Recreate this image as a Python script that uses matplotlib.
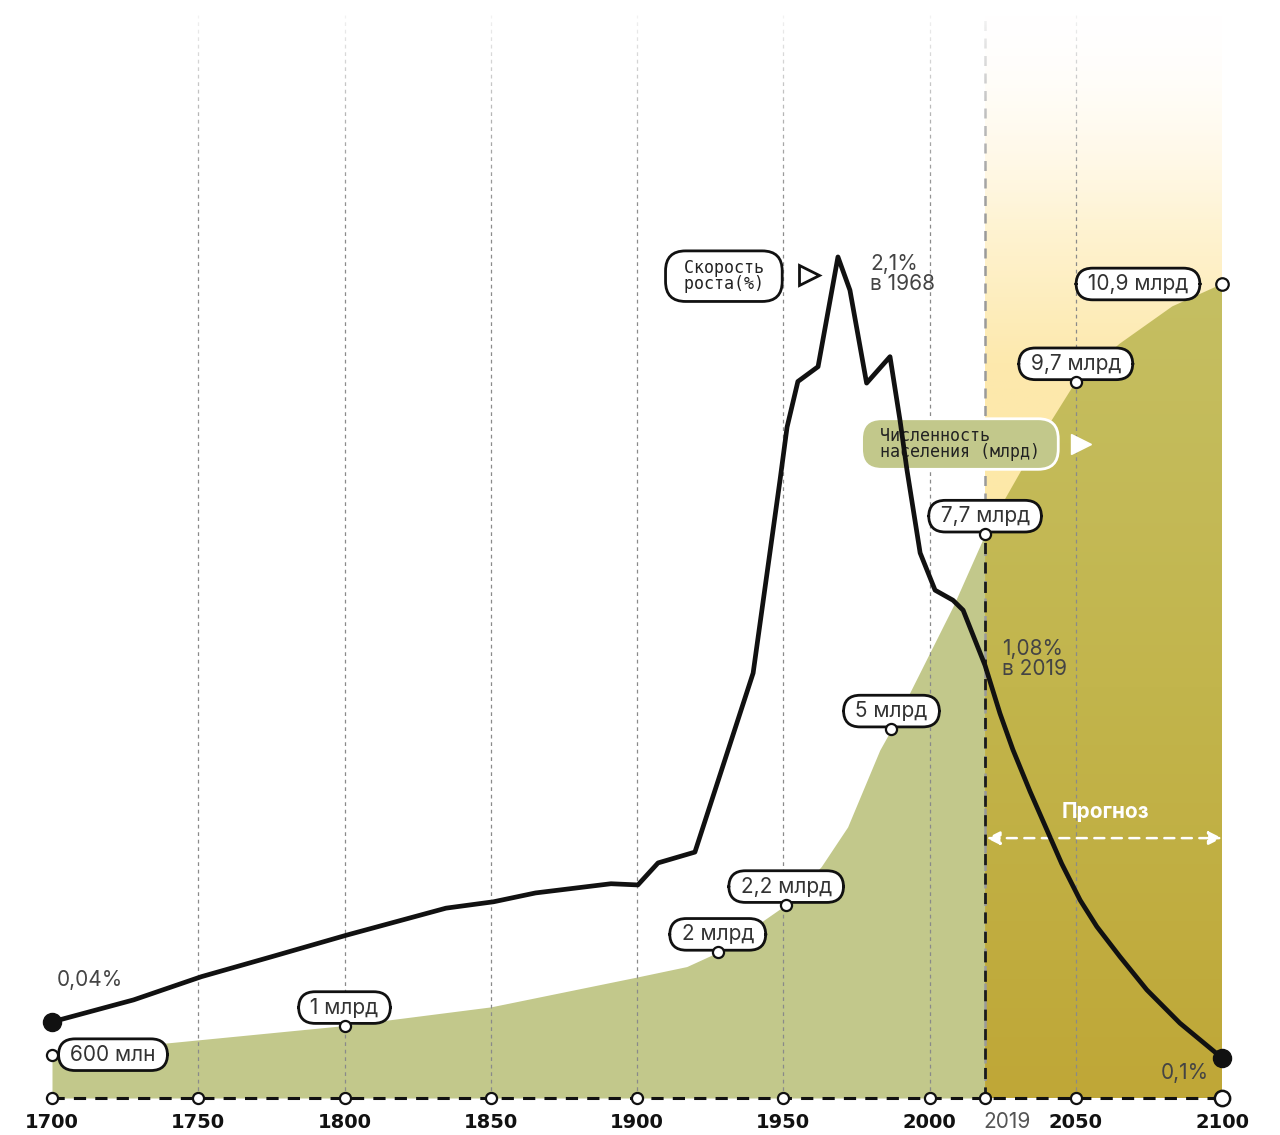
import numpy as np
import matplotlib
matplotlib.use("Agg")
import matplotlib.pyplot as plt
from matplotlib.colors import LinearSegmentedColormap

plt.rcParams['font.family'] = ['Inter', 'DejaVu Sans']

# population (billions)
pop_years = [1700, 1740, 1800, 1850, 1900, 1917, 1927.6, 1940, 1951, 1963, 1972, 1983, 1987, 2008, 2019]
pop_values = [0.58, 0.74, 0.97, 1.22, 1.62, 1.76, 1.95, 2.29, 2.59, 3.10, 3.63, 4.66, 4.94, 6.58, 7.55]
fc_years = [2019, 2035, 2050, 2065, 2083, 2100]
fc_values = [7.55, 8.65, 9.59, 10.10, 10.60, 10.90]

# growth rate (%)
rate_years = [1700, 1727.9, 1751.1, 1775.2, 1800.9, 1834.7, 1851, 1865.3, 1891.1, 1900.3, 1907.2,
              1919.8, 1939.7, 1948.9, 1951.3, 1955, 1961.9, 1968.7, 1972.8, 1978.5, 1986.5,
              1989.9, 1992.3, 1996.8, 2001.9, 2008, 2011.5, 2019, 2024.1, 2028.5, 2034.4, 2040.1,
              2045.2, 2051.5, 2057.2, 2065.1, 2074.3, 2085.6, 2100]
rate_values = [0.19, 0.245, 0.303, 0.353, 0.407, 0.474, 0.490, 0.512, 0.535, 0.532, 0.587,
               0.614, 1.061, 1.543, 1.675, 1.789, 1.826, 2.10, 2.017, 1.785, 1.851,
               1.693, 1.568, 1.361, 1.268, 1.243, 1.218, 1.08, 0.96, 0.87, 0.765, 0.67,
               0.585, 0.494, 0.428, 0.353, 0.270, 0.187, 0.10]

label_years = [1800, 1927.6, 1951, 1987, 2019, 2050, 2100]
label_values = [0.97, 1.95, 2.59, 4.94, 7.55, 9.59, 10.90]
label_texts = ["1 млрд", "2 млрд", "2,2 млрд", "5 млрд", "7,7 млрд", "9,7 млрд", "10,9 млрд"]

tick_years = [1700, 1750, 1800, 1850, 1900, 1950, 2000, 2019, 2050, 2100]
grid_years = [1750, 1800, 1850, 1900, 1950, 2000, 2050]

green = '#c2c88b'
W, H = 1280, 1135
fig = plt.figure(figsize=(W / 100, H / 100), dpi=100)
ax = fig.add_axes([52 / W, 37 / H, 1170 / W, 1098 / H])
ax.axis('off')

# yellow forecast band
band = LinearSegmentedColormap.from_list('band', ['#fde8a6', '#fde9ad', '#fff6dc', '#ffffff'])
ax.imshow(np.linspace(0, 1, 256).reshape(-1, 1), cmap=band, origin='lower', aspect='auto',
          extent=[2019, 2100, 7.5, 14.5], zorder=1)
ax.axvspan(2019, 2100, ymin=0, ymax=7.5 / 14.7, color='#fde8a6', lw=0, zorder=1)

# population areas
ax.fill_between(pop_years, pop_values, color=green, lw=0, zorder=2)
poly = ax.fill_between(fc_years, fc_values, color='none', lw=0, zorder=2)
gold = LinearSegmentedColormap.from_list('gold', ['#bfa737', '#c2b54c', '#c5bf63'])
img = ax.imshow(np.linspace(0, 1, 256).reshape(-1, 1), cmap=gold, origin='lower', aspect='auto',
                extent=[2019, 2100, 0, 11], zorder=2)
img.set_clip_path(poly.get_paths()[0], transform=ax.transData)
ax.set_xlim(1700, 2100)
ax.set_ylim(0, 1098 / 74.68)

# grid
ax.vlines(grid_years, 0, 14.5, colors='#8a8a8a', lw=0.9, linestyles=(0, (3, 3)), zorder=3)
ax.vlines([2019], 0, 14.5, colors='#9a9a9a', lw=1.8, linestyles=(0, (4, 3)), zorder=3)
ax.vlines([2019], 0, 7.55, colors='#1a1a1a', lw=2, linestyles=(0, (4, 3)), zorder=3.2)

# fade at top
fade = np.zeros((256, 1, 4))
fade[..., :3] = 1
fade[:, 0, 3] = np.linspace(0, 1, 256) ** 1.5
ax.imshow(fade, origin='lower', aspect='auto', extent=[1700, 2100, 11.5, 14.7], zorder=3.5)

# baseline
ax.plot([1700, 2100], [0, 0], color='#111', lw=2.2, ls=(0, (4, 3)), clip_on=False, zorder=4)
ax.plot(tick_years[:-1], [0] * (len(tick_years) - 1), 'o', ms=8, mfc='white', mec='#111', mew=1.6,
        clip_on=False, zorder=6)
ax.plot([2100], [0], 'o', ms=11, mfc='white', mec='#111', mew=1.8, clip_on=False, zorder=6)
for yr in tick_years:
    if yr == 2019:
        ax.annotate(str(yr), (yr, 0), xytext=(22, -24), textcoords='offset pixels', ha='center',
                    va='center', fontsize=15, color='#555', annotation_clip=False)
    else:
        ax.annotate(str(yr), (yr, 0), xytext=(0, -24), textcoords='offset pixels', ha='center',
                    va='center', fontsize=14, fontweight='bold', color='#111',
                    family='DejaVu Sans', annotation_clip=False)

# value labels
pill = dict(boxstyle='round,pad=0.28,rounding_size=0.8', fc='white', ec='#111', lw=2)
for yr, v, t in zip(label_years, label_values, label_texts):
    if yr == 2100:
        ax.annotate(f" {t} ", (yr, v), xytext=(-84, 0), textcoords='offset pixels', ha='center',
                    va='center', fontsize=15, color='#333', bbox=pill, zorder=7, annotation_clip=False)
    else:
        ax.annotate(f" {t} ", (yr, v), xytext=(0, 18), textcoords='offset pixels', ha='center',
                    va='center', fontsize=15, color='#333', bbox=pill, zorder=7)
ax.annotate(" 600 млн ", (1700, 0.58), xytext=(61, 0), textcoords='offset pixels', ha='center',
            va='center', fontsize=15, color='#333', bbox=pill, zorder=7)
ax.plot(label_years[:-1] + [1700], label_values[:-1] + [0.58], 'o', ms=8, mfc='white', mec='#111',
        mew=1.6, zorder=8, clip_on=False)
ax.plot([2100], [10.9], 'o', ms=9, mfc='white', mec='#111', mew=1.6, zorder=8, clip_on=False)

# population legend + forecast arrow
ax.text(2010.4, 8.757, " Численность      \n населения (млрд) ", ha='center', va='center', fontsize=12,
        family='DejaVu Sans Mono', color='#222', linespacing=0.85, zorder=7,
        bbox=dict(boxstyle='round,pad=0.5,rounding_size=1.2', fc=green, ec='white', lw=2))
ax.plot([2051.8], [8.757], '>', ms=14, color='white', zorder=7)
ax.text(2060, 3.83, "Прогноз", ha='center', va='center', fontsize=15, fontweight='bold',
        color='white', zorder=7)
ax.annotate('', xy=(2100, 3.48), xytext=(2019.5, 3.48), zorder=7,
            arrowprops=dict(arrowstyle='<|-|>', color='white', lw=1.8, ls=(0, (4, 3)),
                            mutation_scale=20, shrinkA=0, shrinkB=0))

# growth rate line
ax2 = ax.twinx()
ax2.set_ylim(0, 1098 / 400.5)
ax2.axis('off')
ax2.plot(rate_years, rate_values, color='#111', lw=3.4, solid_joinstyle='round', zorder=5)
ax2.plot([1700, 2100], [0.19, 0.10], 'o', ms=13, color='#111', clip_on=False, zorder=6)

grey = '#444'
ax2.text(1713, 0.295, "0,04%", ha='center', va='center', fontsize=15, color=grey)
ax2.text(1979.7, 2.057, "2,1%\nв 1968", ha='left', va='center', fontsize=15, color=grey, linespacing=1.0)
ax2.text(2024.8, 1.096, "1,08%\nв 2019", ha='left', va='center', fontsize=15, color=grey, linespacing=1.0)
ax2.text(2087.4, 0.0624, "0,1%", ha='center', va='center', fontsize=15, color=grey)

ax2.text(1929.7, 2.052, " Скорость \n роста(%) ", ha='center', va='center', fontsize=12,
         family='DejaVu Sans Mono', color='#222', linespacing=0.85,
         bbox=dict(boxstyle='round,pad=0.5,rounding_size=1.2', fc='white', ec='#111', lw=2))
ax2.plot([1958.8], [2.055], '>', ms=14, mfc='white', mec='#111', mew=2)

fig.savefig('out.png', dpi=100, facecolor='white')
